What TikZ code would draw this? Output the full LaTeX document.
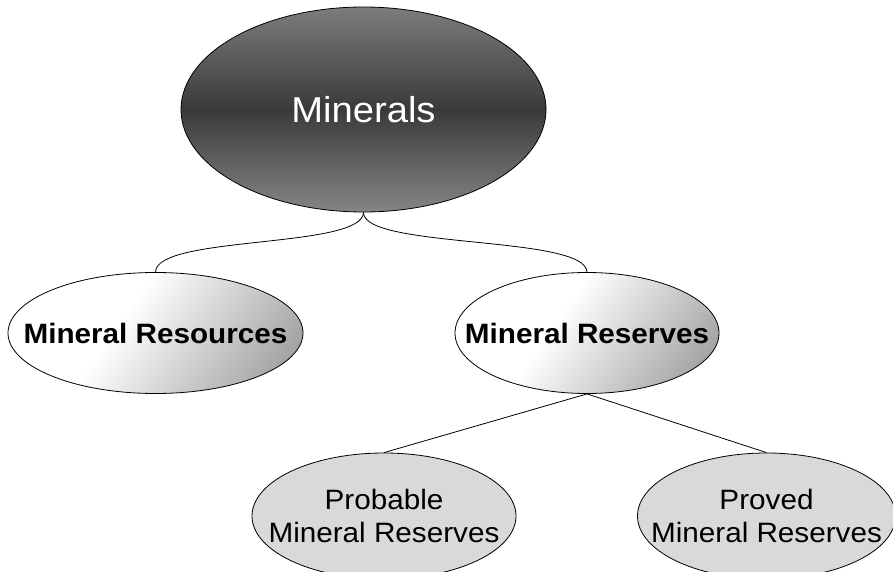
\documentclass[tikz,border=0pt]{standalone}
\usepackage{fontspec}
\setmainfont{Liberation Sans}
\newfontfamily\af[FakeStretch=1.06]{Liberation Sans}
\usetikzlibrary{shapes.geometric}
\definecolor{mtop}{HTML}{7C7C7C}
\definecolor{mmid}{HTML}{3A3A3A}
\definecolor{mbot}{HTML}{858585}
\definecolor{rdark}{HTML}{6A6A6A}
\definecolor{leaf}{HTML}{D9D9D9}
\pgfdeclarehorizontalshading{resshade}{100bp}{color(0bp)=(white); color(42bp)=(white); color(100bp)=(rdark)}
\begin{document}
\begin{tikzpicture}[x=1pt,y=-1pt,
  oval/.style={ellipse, draw=black, line width=0.8pt, inner sep=0pt},
  rootoval/.style={oval, top color=mtop, bottom color=mbot, middle color=mmid},
  midoval/.style={oval, shading=resshade, shading angle=-35},
  leafoval/.style={oval, fill=leaf},
  conn/.style={draw=black, line width=0.8pt},
  roottext/.style={font=\af\fontsize{36}{40}\selectfont, text=white, inner sep=0pt},
  midtext/.style={font=\af\bfseries\fontsize{28}{32}\selectfont, text=black, inner sep=0pt},
  leaftext/.style={font=\af\fontsize{28}{33.4}\selectfont, text=black, align=center, inner sep=0pt}]
\useasboundingbox (0,0) rectangle (893,572);
\clip (0,0) rectangle (893,572);
% ovals
\node[rootoval, minimum width=365pt, minimum height=205pt] (min) at (363.5,109.5) {};
\node[midoval, minimum width=295pt, minimum height=121pt] (res) at (155.5,333) {};
\node[midoval, minimum width=264pt, minimum height=121pt] (rsv) at (587,333) {};
\node[leafoval, minimum width=264pt, minimum height=126pt] (prob) at (384,516) {};
\node[leafoval, minimum width=258pt, minimum height=126pt] (prov) at (766.5,516) {};
% texts
\node[roottext] (mint) at (min.center) {Minerals};
\node[midtext] (rest) at (res.center) {Mineral Resources};
\node[midtext] (rsvt) at (rsv.center) {Mineral Reserves};
\node[leaftext] (probt) at (prob.center) {Probable\\Mineral Reserves};
\node[leaftext] (provt) at (prov.center) {Proved\\Mineral Reserves};
% connectors
\draw[conn] (min.south) .. controls (363,249) and (156,235) .. (res.north);
\draw[conn] (min.south) .. controls (363,249) and (586,235) .. (rsv.north);
\draw[conn] (rsv.south) -- (prob.north);
\draw[conn] (rsv.south) -- (prov.north);
\end{tikzpicture}
\end{document}
